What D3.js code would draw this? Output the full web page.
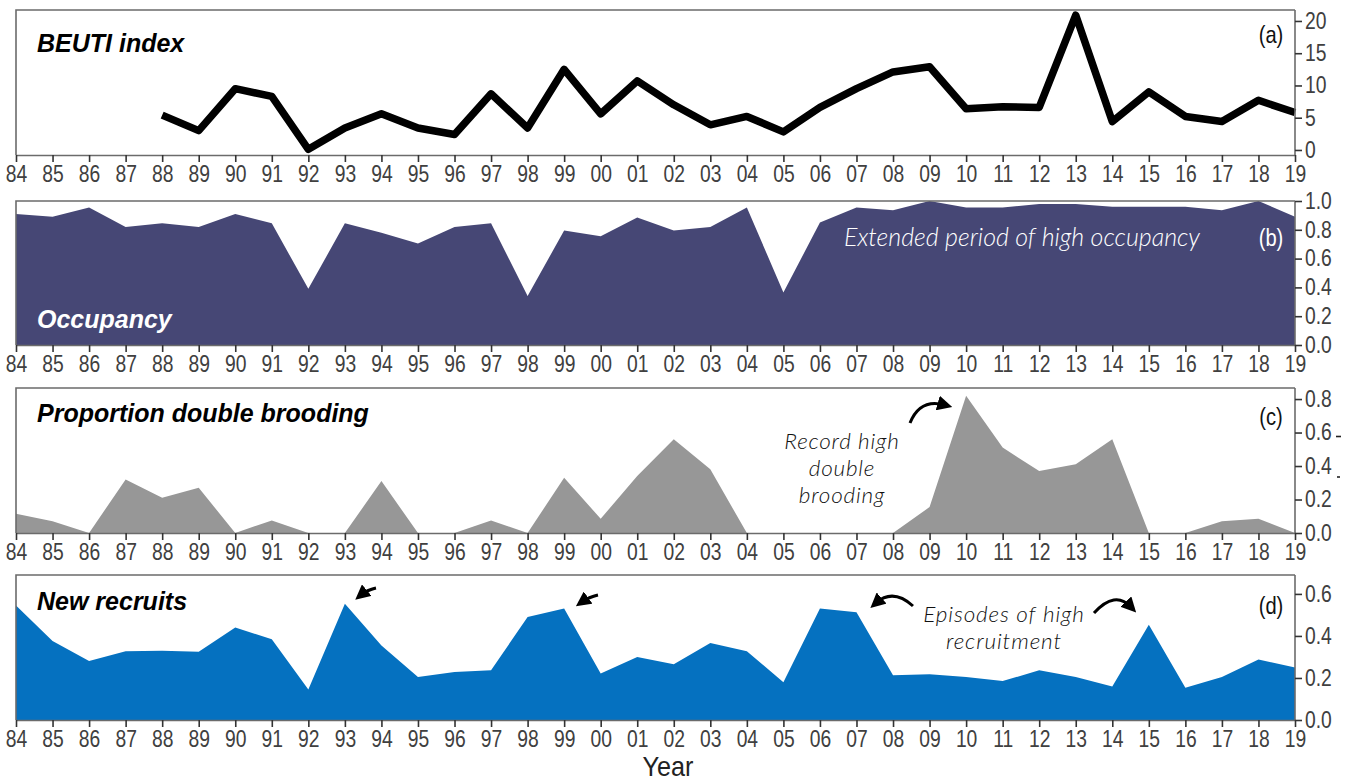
<!DOCTYPE html>
<html>
<head>
<meta charset="utf-8">
<script src="https://cdn.jsdelivr.net/npm/d3@7"></script>
<style>
  html, body { margin: 0; padding: 0; background: #fff; }
  svg { display: block; }
  .tick text { font-family: "Liberation Sans", Arial, sans-serif; }
</style>
</head>
<body>
<svg id="chart" width="1352" height="781"></svg>
<script>
// Year labels (1984–2019)
const yearLabels = ["84","85","86","87","88","89","90","91","92","93","94","95","96","97","98","99",
  "00","01","02","03","04","05","06","07","08","09","10","11","12","13","14","15","16","17","18","19"];

// (a) BEUTI index, available from 1988 on
const beutiStart = 4;
const beuti = [5.4, 3.0, 9.5, 8.3, 0.1, 3.4, 5.6, 3.4, 2.4, 8.7, 3.4, 12.5, 5.6, 10.7, 7.0, 3.9,
  5.2, 2.8, 6.6, 9.5, 12.1, 12.9, 6.4, 6.7, 6.6, 20.9, 4.4, 9.0, 5.2, 4.4, 7.7, 5.8];

// (b) Occupancy
const occupancy = [0.91, 0.89, 0.955, 0.82, 0.845, 0.82, 0.91, 0.845, 0.39, 0.845, 0.78, 0.705,
  0.82, 0.845, 0.34, 0.795, 0.755, 0.885, 0.795, 0.82, 0.955, 0.365, 0.85, 0.955, 0.935, 1.0,
  0.955, 0.955, 0.98, 0.98, 0.96, 0.96, 0.96, 0.935, 1.0, 0.89];

// (c) Proportion double brooding
const doubleBrooding = [0.115, 0.07, 0.0, 0.32, 0.21, 0.27, 0.0, 0.075, 0.0, 0.0, 0.31, 0.0,
  0.0, 0.075, 0.0, 0.33, 0.085, 0.34, 0.56, 0.38, 0.0, 0.0, 0.0, 0.0, 0.0, 0.155,
  0.82, 0.51, 0.37, 0.41, 0.56, 0.0, 0.0, 0.07, 0.085, 0.0];

// (d) New recruits
const newRecruits = [0.545, 0.376, 0.281, 0.327, 0.329, 0.325, 0.44, 0.384, 0.145, 0.553, 0.355,
  0.205, 0.229, 0.237, 0.49, 0.53, 0.221, 0.30, 0.265, 0.367, 0.327, 0.18, 0.53, 0.513, 0.213,
  0.218, 0.205, 0.185, 0.237, 0.205, 0.16, 0.453, 0.153, 0.205, 0.288, 0.25];

// Right-axis tick values per panel
const ticksA = [0, 5, 10, 15, 20];
const ticksB = [0, 0.2, 0.4, 0.6, 0.8, 1.0];
const ticksC = [0, 0.2, 0.4, 0.6, 0.8];
const ticksD = [0, 0.2, 0.4, 0.6];

const svg = d3.select("#chart");
const left = 16, right = 1295;
const axisGray = "#6b6b6b";
const labelGray = "#404040";
const titleFont = "'Liberation Sans', Arial, sans-serif";
const noteFont = "Lato, 'Open Sans', sans-serif";
const narrow = 0.84; // horizontal squeeze for the condensed label face

const x = d3.scalePoint().domain(yearLabels).range([left, right]);

const panels = [
  { key: "a", top: 10,  bottom: 155, domain: [-0.78, 21.7], ticks: ticksA, fmt: d3.format("d") },
  { key: "b", top: 201, bottom: 345, domain: [0, 1],        ticks: ticksB, fmt: d3.format(".1f") },
  { key: "c", top: 388, bottom: 533, domain: [0, 0.866],    ticks: ticksC, fmt: d3.format(".1f") },
  { key: "d", top: 575, bottom: 720, domain: [0, 0.69],     ticks: ticksD, fmt: d3.format(".1f") }
];
panels.forEach(p => { p.y = d3.scaleLinear().domain(p.domain).range([p.bottom, p.top]); });
const P = Object.fromEntries(panels.map(p => [p.key, p]));

// Filled series
function drawArea(p, values, color) {
  const area = d3.area()
    .x((d, i) => x(yearLabels[i]))
    .y0(p.y(0))
    .y1(d => p.y(d));
  svg.append("path").datum(values).attr("d", area).attr("fill", color);
}
drawArea(P.b, occupancy, "#464775");
drawArea(P.c, doubleBrooding, "#979797");
drawArea(P.d, newRecruits, "#0571c0");

// BEUTI line
const beutiLine = d3.line()
  .x((d, i) => x(yearLabels[i + beutiStart]))
  .y(d => P.a.y(d));
svg.append("path").datum(beuti).attr("d", beutiLine)
  .attr("fill", "none").attr("stroke", "#000").attr("stroke-width", 7.5)
  .attr("stroke-linejoin", "round");

// Frames and axes
panels.forEach(p => {
  svg.append("path")
    .attr("d", `M${left},${p.bottom}V${p.top}H${right}`)
    .attr("fill", "none").attr("stroke", axisGray).attr("stroke-width", 1.6);

  const xa = svg.append("g").attr("transform", `translate(0,${p.bottom})`)
    .call(d3.axisBottom(x).tickSize(7).tickSizeOuter(0).tickPadding(4));
  xa.select(".domain").attr("stroke", axisGray).attr("stroke-width", 1.6);
  xa.selectAll(".tick line").attr("stroke", "#333").attr("stroke-width", 1.6);
  xa.selectAll(".tick text").attr("font-size", 23).attr("fill", labelGray)
    .attr("transform", `scale(${narrow},1)`);

  const ya = svg.append("g").attr("transform", `translate(${right},0)`)
    .call(d3.axisRight(p.y).tickValues(p.ticks).tickFormat(p.fmt).tickSize(7).tickSizeOuter(0).tickPadding(3));
  ya.select(".domain").attr("stroke", axisGray).attr("stroke-width", 1.6)
    .attr("d", `M0,${p.top}V${p.bottom}`);
  ya.selectAll(".tick line").attr("stroke", "#333").attr("stroke-width", 1.6);
  ya.selectAll(".tick text").attr("font-size", 23).attr("fill", labelGray)
    .attr("x", 10 / narrow).attr("transform", `scale(${narrow},1)`);
});

// Panel titles
const titles = [
  { p: "a", text: "BEUTI index", color: "#000", dy: 42 },
  { p: "b", text: "Occupancy", color: "#fff", dy: 127 },
  { p: "c", text: "Proportion double brooding", color: "#000", dy: 34 },
  { p: "d", text: "New recruits", color: "#000", dy: 35 }
];
titles.forEach(t => {
  svg.append("text").attr("x", 37).attr("y", P[t.p].top + t.dy)
    .attr("font-family", titleFont).attr("font-size", 25)
    .attr("font-weight", "bold").attr("font-style", "italic")
    .attr("fill", t.color).text(t.text);
});

// Panel letters
const letters = [
  { p: "a", text: "(a)", color: "#111", dy: 33 },
  { p: "b", text: "(b)", color: "#fff", dy: 45 },
  { p: "c", text: "(c)", color: "#111", dy: 37 },
  { p: "d", text: "(d)", color: "#111", dy: 39 }
];
letters.forEach(t => {
  svg.append("text").attr("x", 1271 / narrow).attr("y", P[t.p].top + t.dy)
    .attr("text-anchor", "middle").attr("transform", `scale(${narrow},1)`)
    .attr("font-family", titleFont).attr("font-size", 24)
    .attr("fill", t.color).text(t.text);
});

// Axis title
svg.append("text").attr("x", 668 / 0.9).attr("y", 776).attr("text-anchor", "middle")
  .attr("transform", "scale(0.9,1)")
  .attr("font-family", titleFont).attr("font-size", 28)
  .attr("fill", "#222").text("Year");

// Annotations
function note(lines, cx, y0, lh, color, size, spacing) {
  const t = svg.append("text").attr("text-anchor", "middle")
    .attr("font-family", noteFont).attr("font-size", size).attr("letter-spacing", spacing)
    .attr("font-style", "italic").attr("font-weight", 300).attr("fill", color);
  lines.forEach((s, i) => t.append("tspan").attr("x", cx).attr("y", y0 + i * lh).text(s));
}
note(["Extended period of high occupancy"], 1022, 246, 0, "#fff", 25, 0);
note(["Record high", "double", "brooding"], 842, 449, 27, "#111", 22.5, 0.8);
note(["Episodes of high", "recruitment"], 1004, 622, 27, "#111", 22.5, 0.9);

// Arrow heads
svg.append("defs").append("marker")
  .attr("id", "head").attr("viewBox", "0 0 10 10").attr("refX", 5).attr("refY", 5)
  .attr("markerWidth", 5).attr("markerHeight", 5).attr("orient", "auto")
  .append("path").attr("d", "M0,0L10,5L0,10Z").attr("fill", "#000");

const arrows = [
  "M910,423 Q920,398 945,405",    // record high double brooding
  "M913,606 Q893,588 876,603",    // left recruitment episode
  "M1094,613 Q1115,590 1131,607", // right recruitment episode
  "M376,588 Q367,590 361,595",    // 1993
  "M598,595 Q589,597 582,602"     // 1999
];
arrows.forEach(d => {
  svg.append("path").attr("d", d).attr("fill", "none").attr("stroke", "#000")
    .attr("stroke-width", 3).attr("marker-end", "url(#head)");
});

// Small stray marks beside the (c) axis labels
svg.append("path").attr("d", "M1336,436.5H1341").attr("stroke", "#222").attr("stroke-width", 1.6);
svg.append("path").attr("d", "M1337,477H1340").attr("stroke", "#222").attr("stroke-width", 1.6);
</script>
</body>
</html>
